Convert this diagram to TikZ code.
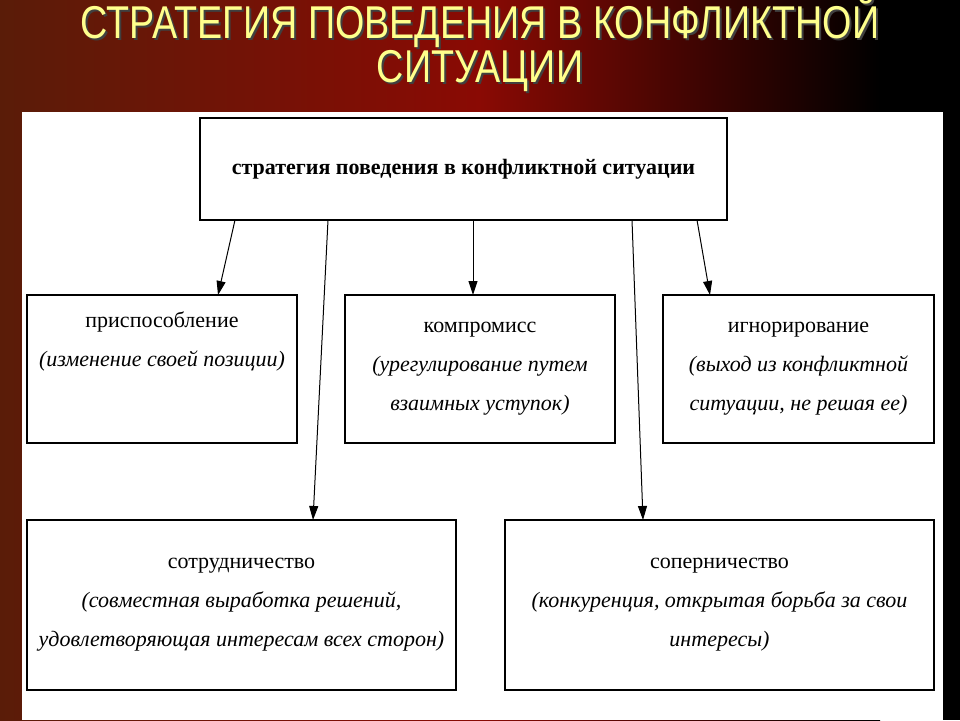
\documentclass[tikz,border=0pt]{standalone}
\usepackage{fontspec}
\setmainfont{Liberation Serif}
\newfontfamily\titlefont[FakeStretch=0.82]{Liberation Sans}
\usetikzlibrary{arrows.meta}
\definecolor{bgbrown}{HTML}{5A1C08}
\definecolor{bgred}{HTML}{8A0A04}
\definecolor{ttl}{HTML}{FFFF8C}
\tikzset{
 box/.style={draw=black,line width=1.6pt,fill=white,align=center,inner sep=0pt,font=\fontsize{22}{39}\selectfont},
 arr/.style={line width=1pt,-{Triangle[length=14pt,width=9pt]}},
 ttlstyle/.style={font=\titlefont\fontsize{46}{44}\selectfont,align=center},
}
\begin{document}
\begin{tikzpicture}[x=1pt,y=-1pt]
\useasboundingbox (0,0) rectangle (960,720);
\shade[left color=bgbrown,right color=bgred] (0,0) rectangle (480,720);
\shade[left color=bgred,right color=black] (479,0) rectangle (880,720);
\fill[black] (879,0) rectangle (960,720);
\node[text=black!75,ttlstyle] at (482,46) {СТРАТЕГИЯ ПОВЕДЕНИЯ В КОНФЛИКТНОЙ\\СИТУАЦИИ};
\node[text=ttl,ttlstyle] (title) at (480,44) {СТРАТЕГИЯ ПОВЕДЕНИЯ В КОНФЛИКТНОЙ\\СИТУАЦИИ};
\fill[white] (22,112) rectangle (943,720);
\node[box,minimum width=527pt,minimum height=102pt,font=\bfseries\fontsize{22}{26}\selectfont] (top) at (463.5,169) {стратегия поведения в конфликтной ситуации};
\node[box,minimum width=270pt,minimum height=148pt] (b1) at (162,369) {приспособление\\\textit{(изменение своей позиции)}\\[20pt]};
\node[box,minimum width=270pt,minimum height=148pt] (b2) at (480,369) {компромисс\\\textit{(урегулирование путем}\\\textit{взаимных уступок)}};
\node[box,minimum width=271pt,minimum height=148pt] (b3) at (798.5,369) {игнорирование\\\textit{(выход из конфликтной}\\\textit{ситуации, не решая ее)}};
\node[box,minimum width=429pt,minimum height=170pt] (b4) at (241.5,605) {сотрудничество\\\textit{(совместная выработка решений,}\\\textit{удовлетворяющая интересам всех сторон)}};
\node[box,minimum width=429pt,minimum height=170pt] (b5) at (719.5,605) {соперничество\\\textit{(конкуренция, открытая борьба за свои}\\\textit{интересы)}};
\coordinate (s1) at (235,220); \coordinate (e1) at (218,295);
\coordinate (s2) at (473,220); \coordinate (e2) at (473,295);
\coordinate (s3) at (697,220); \coordinate (e3) at (710,295);
\coordinate (s4) at (328,220); \coordinate (e4) at (313,520);
\coordinate (s5) at (632,220); \coordinate (e5) at (643,520);
\foreach \i in {1,...,5} \draw[arr] (s\i) -- (e\i);
\end{tikzpicture}
\end{document}
